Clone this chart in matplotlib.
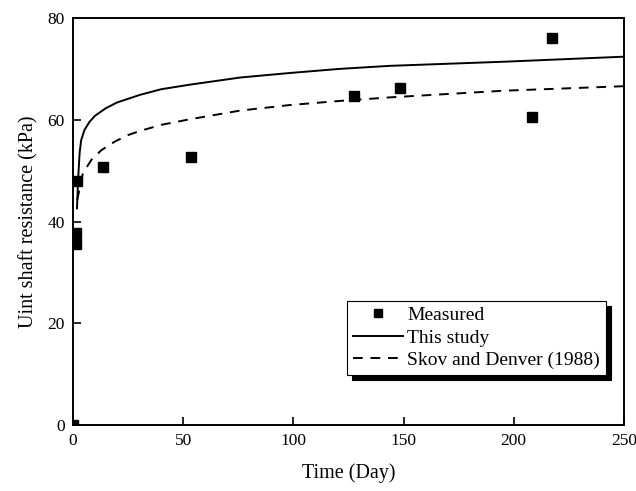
import matplotlib.pyplot as plt

plt.rcParams['font.family'] = ['Liberation Serif', 'DejaVu Serif']

# Measured points (day, kPa)
measured_day = [0, 1.4, 1.4, 1.8, 13.6, 53.4, 127.5, 148.4, 208.1, 217.2]
measured_kpa = [0, 35.6, 37.7, 48.0, 50.8, 52.7, 64.7, 66.2, 60.5, 76.0]

# This study curve
study_day = [1.8, 2.3, 3.0, 3.7, 5.2, 7.5, 10, 15, 20, 30.4, 40, 53, 75.8, 98.5, 121, 143.8, 195, 250]
study_kpa = [42.6, 48.2, 53.5, 56.0, 58.0, 59.6, 60.8, 62.3, 63.4, 64.9, 66.0, 66.9, 68.3, 69.2, 70.0, 70.6, 71.4, 72.4]

# Skov and Denver (1988) curve
skov_day = [1.9, 4.5, 8.3, 12.8, 18.9, 25, 30.4, 40, 53, 75.8, 98.5, 121, 143.8, 195, 250]
skov_kpa = [44.2, 49.5, 52.1, 54.0, 55.7, 57.0, 57.8, 59.0, 60.1, 61.8, 62.9, 63.7, 64.4, 65.7, 66.6]

fig = plt.figure(figsize=(6.36, 4.91), dpi=100)
ax = fig.add_axes([0.1148, 0.1344, 0.8662, 0.8289])

ax.plot(measured_day, measured_kpa, 's', color='black', markersize=7,
        linestyle='none', label='Measured', zorder=3)
ax.plot(study_day, study_kpa, '-', color='black', linewidth=1.4, label='This study')
ax.plot(skov_day, skov_kpa, color='black', linewidth=1.4, linestyle=(0, (5, 4)),
        label='Skov and Denver (1988)')

ax.set_xlim(0, 250)
ax.set_ylim(0, 80)
ax.set_xticks([0, 50, 100, 150, 200, 250])
ax.set_yticks([0, 20, 40, 60, 80])
ax.tick_params(direction='in', length=6, width=1.2, labelsize=12.5, pad=6)
for s in ax.spines.values():
    s.set_linewidth(1.4)

ax.set_xlabel('Time (Day)', fontsize=14.5, labelpad=10)
ax.set_ylabel('Uint shaft resistance (kPa)', fontsize=14.5, labelpad=6)

leg = ax.legend(loc='lower right', bbox_to_anchor=(0.967, 0.123), fontsize=14,
                fancybox=False, edgecolor='black', framealpha=1,
                shadow={'color': 'black', 'alpha': 1, 'ox': 3.6, 'oy': -3.6},
                handlelength=2.6, handletextpad=0.2, labelspacing=0.25,
                borderpad=0.3, borderaxespad=0, markerscale=0.85)
leg.get_frame().set_linewidth(0.8)

fig.savefig('out.png', dpi=100)
